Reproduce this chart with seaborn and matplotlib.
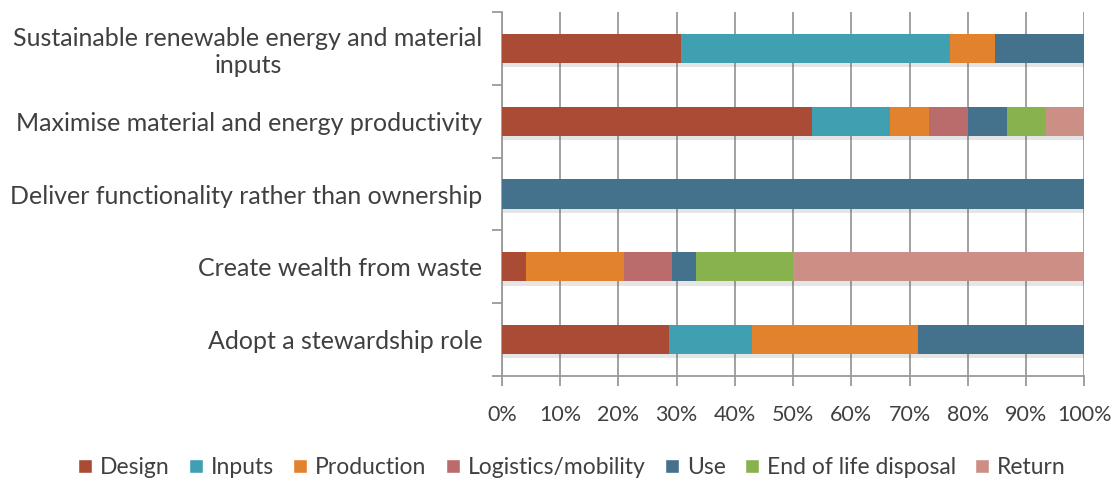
import numpy as np
import seaborn as sns
from matplotlib import pyplot as plt
from matplotlib.patches import Patch
from matplotlib import patheffects as pe

categories = [
    "Sustainable renewable energy and material\ninputs",
    "Maximise material and energy productivity",
    "Deliver functionality rather than ownership",
    "Create wealth from waste",
    "Adopt a stewardship role",
]
series_names = ["Design", "Inputs", "Production", "Logistics/mobility",
                "Use", "End of life disposal", "Return"]

# share of each stage, percent
design = [30.8, 53.3, 0.0, 4.2, 28.6]
inputs = [46.2, 13.3, 0.0, 0.0, 14.3]
production = [7.7, 6.7, 0.0, 16.7, 28.6]
logistics = [0.0, 6.7, 0.0, 8.3, 0.0]
use = [15.3, 6.7, 100.0, 4.1, 28.5]
end_of_life = [0.0, 6.7, 0.0, 16.7, 0.0]
returns = [0.0, 6.6, 0.0, 50.0, 0.0]

colors = ["#AA4B36", "#3FA0B2", "#E2822D", "#BA6C6C",
          "#44718C", "#88B24E", "#CC8F86"]

sns.set_style("white")
plt.rcParams["font.family"] = ["Lato", "DejaVu Sans"]
text_col = "#404040"
grid_col = "#9a9a9a"

fig = plt.figure(figsize=(11.17, 4.82), dpi=100)
ax = fig.add_axes([0.4494, 0.22, 0.5213, 0.755])

values = np.array([design, inputs, production, logistics, use,
                   end_of_life, returns])
cum = np.cumsum(values, axis=0)

# stacked bars: draw the running totals from the last series back to the first
for i in range(len(series_names) - 1, -1, -1):
    n_before = len(ax.patches)
    sns.barplot(x=np.minimum(cum[i], 100), y=categories, orient="h",
                color=colors[i], width=0.4, saturation=1, linewidth=0,
                ax=ax, zorder=3)
    if i == len(series_names) - 1:
        for p in ax.patches[n_before:]:
            p.set_path_effects([pe.SimplePatchShadow(offset=(1, -3), alpha=0.15,
                                                     shadow_rgbFace="#555555"),
                                pe.Normal()])

ax.set_xlim(0, 100)
ax.set_ylim(4.5, -0.5)
ax.set_xticks(range(0, 101, 10))
ax.set_xticklabels([f"{v}%" for v in range(0, 101, 10)])
ax.set_xlabel("")
ax.set_ylabel("")
ax.grid(axis="x", color=grid_col, lw=1.3, zorder=0)
ax.grid(axis="y", visible=False)
ax.set_axisbelow(True)

ax.set_yticks(np.arange(-0.5, 5, 1), minor=True)
ax.tick_params(axis="y", which="major", left=False, length=0, pad=14,
               labelsize=18, labelcolor=text_col)
ax.tick_params(axis="y", which="minor", left=True, length=7, width=1.3,
               color=grid_col)
ax.tick_params(axis="x", bottom=True, length=7, width=1.3, color=grid_col,
               pad=14, labelsize=15.5, labelcolor=text_col)
for lab in ax.get_yticklabels():
    lab.set_multialignment("center")

for side in ["top", "right"]:
    ax.spines[side].set_visible(False)
for side in ["left", "bottom"]:
    ax.spines[side].set_color(grid_col)
    ax.spines[side].set_linewidth(1.3)

handles = [Patch(facecolor=c, label=n) for c, n in zip(colors, series_names)]
fig.legend(handles=handles, loc="center", bbox_to_anchor=(0.512, 0.03), ncol=7,
           frameon=False, fontsize=16.5, handlelength=0.6, handleheight=0.6,
           handletextpad=0.35, columnspacing=0.85, labelcolor=text_col)

fig.savefig("out.png", dpi=100)
